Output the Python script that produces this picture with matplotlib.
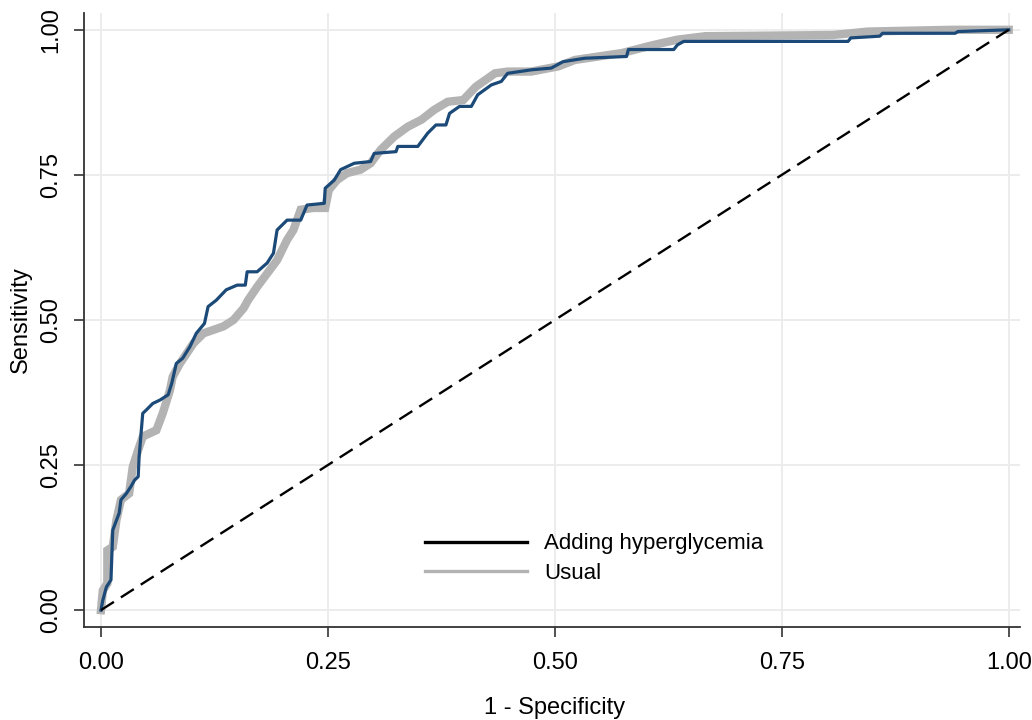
import matplotlib
matplotlib.use('Agg')
import numpy as np
import matplotlib.pyplot as plt
from matplotlib.lines import Line2D
from matplotlib import font_manager

# ROC curve vertices (1 - specificity, sensitivity)
hyper_fpr = [0.000, 0.002, 0.006, 0.011, 0.013, 0.020, 0.022, 0.028, 0.033, 0.037,
             0.041, 0.042, 0.046, 0.050, 0.057, 0.065, 0.074, 0.078, 0.083, 0.090,
             0.098, 0.105, 0.114, 0.118, 0.127, 0.138, 0.150, 0.159, 0.161, 0.172,
             0.183, 0.190, 0.194, 0.205, 0.220, 0.227, 0.246, 0.247, 0.257, 0.264,
             0.279, 0.297, 0.301, 0.325, 0.327, 0.349, 0.360, 0.369, 0.380, 0.384,
             0.395, 0.408, 0.415, 0.430, 0.441, 0.448, 0.474, 0.496, 0.509, 0.533,
             0.579, 0.581, 0.631, 0.635, 0.642, 0.823, 0.826, 0.858, 0.861, 0.941,
             0.944, 1.000]
hyper_tpr = [0.000, 0.017, 0.040, 0.052, 0.138, 0.167, 0.190, 0.201, 0.213, 0.224,
             0.230, 0.264, 0.339, 0.345, 0.356, 0.362, 0.371, 0.391, 0.425, 0.434,
             0.454, 0.477, 0.494, 0.523, 0.534, 0.552, 0.560, 0.560, 0.583, 0.583,
             0.598, 0.615, 0.655, 0.672, 0.672, 0.698, 0.701, 0.727, 0.741, 0.759,
             0.770, 0.773, 0.787, 0.790, 0.799, 0.799, 0.822, 0.836, 0.836, 0.856,
             0.868, 0.868, 0.888, 0.905, 0.911, 0.925, 0.931, 0.934, 0.945, 0.951,
             0.954, 0.966, 0.966, 0.974, 0.980, 0.980, 0.986, 0.989, 0.994, 0.994,
             0.997, 1.000]

usual_fpr = [0.000, 0.002, 0.007, 0.007, 0.013, 0.017, 0.022, 0.031, 0.035, 0.041,
             0.046, 0.054, 0.061, 0.068, 0.076, 0.079, 0.087, 0.102, 0.113, 0.124,
             0.135, 0.146, 0.157, 0.162, 0.172, 0.183, 0.194, 0.205, 0.212, 0.220,
             0.234, 0.247, 0.251, 0.260, 0.271, 0.286, 0.297, 0.308, 0.323, 0.338,
             0.353, 0.367, 0.382, 0.399, 0.413, 0.434, 0.448, 0.474, 0.504, 0.522,
             0.574, 0.609, 0.635, 0.666, 0.806, 0.845, 0.937, 1.000]
usual_tpr = [0.000, 0.034, 0.046, 0.103, 0.109, 0.155, 0.190, 0.201, 0.247, 0.276,
             0.299, 0.305, 0.310, 0.339, 0.379, 0.402, 0.425, 0.460, 0.477, 0.483,
             0.489, 0.500, 0.520, 0.534, 0.557, 0.580, 0.603, 0.638, 0.655, 0.690,
             0.693, 0.693, 0.724, 0.741, 0.753, 0.759, 0.770, 0.793, 0.816, 0.833,
             0.845, 0.862, 0.876, 0.879, 0.902, 0.925, 0.928, 0.928, 0.937, 0.948,
             0.960, 0.974, 0.983, 0.989, 0.991, 0.997, 1.000, 1.000]

ticks = [0.0, 0.25, 0.5, 0.75, 1.0]
tick_labels = ['0.00', '0.25', '0.50', '0.75', '1.00']
series_labels = ['Adding hyperglycemia', 'Usual']

names = {f.name for f in font_manager.fontManager.ttflist}
narrow = 'Liberation Sans Narrow' if 'Liberation Sans Narrow' in names else 'Liberation Sans'

fig = plt.figure(figsize=(10.32, 7.2), dpi=100)
ax = fig.add_axes([0.0814, 0.129, 0.9066, 0.853])

ax.plot(usual_fpr, usual_tpr, color='#b3b3b3', lw=6, solid_joinstyle='miter', zorder=2)
ax.plot(hyper_fpr, hyper_tpr, color='#1c4a78', lw=2.3, zorder=3)
ax.plot([0, 1], [0, 1], color='black', lw=1.7, dashes=(6.5, 3.5), zorder=4)

ax.set_xlim(-0.0187, 1.012)
ax.set_ylim(-0.0293, 1.029)
ax.set_xticks(ticks)
ax.set_xticklabels(tick_labels, fontsize=17, family=narrow)
ax.set_yticks(ticks)
ax.set_yticklabels(tick_labels, fontsize=17, family=narrow, rotation=90, va='center')
ax.tick_params(direction='out', length=7, width=1.2, color='#333333')
ax.tick_params(axis='x', pad=11)
ax.tick_params(axis='y', pad=9)
ax.grid(True, color='#ebebeb', lw=1.3)
ax.set_axisbelow(True)
for s in ['top', 'right']:
    ax.spines[s].set_visible(False)
for s in ['left', 'bottom']:
    ax.spines[s].set_color('#333333')
    ax.spines[s].set_linewidth(1.3)

ax.set_xlabel('1 - Specificity', fontsize=17, family=narrow)
ax.set_ylabel('Sensitivity', fontsize=17, family=narrow)
ax.xaxis.set_label_coords(0.503, -0.113)
ax.yaxis.set_label_coords(-0.056, 0.5)

handles = [Line2D([], [], color='black', lw=2.4),
           Line2D([], [], color='#b3b3b3', lw=2.4)]
fig.legend(handles, series_labels, loc='center left', bbox_to_anchor=(0.4118, 0.2243),
           frameon=False, prop={'family': 'Liberation Sans', 'size': 16},
           handlelength=4.6, handletextpad=0.75, labelspacing=0.38,
           borderpad=0, borderaxespad=0)

fig.savefig('out.png', dpi=100, facecolor='white')
